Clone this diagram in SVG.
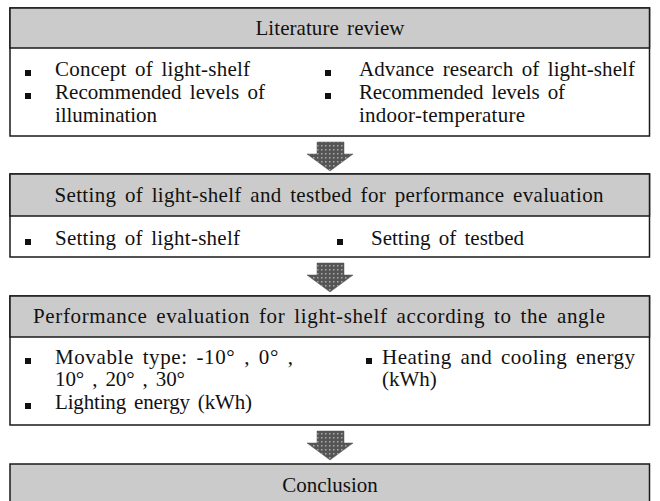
<svg xmlns="http://www.w3.org/2000/svg" width="660" height="501" viewBox="0 0 660 501">
<style>
.box{fill:#ffffff;stroke:#1a1a1a;stroke-width:1.5}
.hdr{fill:#cbcbcb;stroke:#1a1a1a;stroke-width:1.5}
.t{font-family:"Liberation Serif","Times New Roman",serif;font-size:21px;fill:#111;word-spacing:3px}
.h{text-anchor:middle}
.b{fill:#111}
.arr{fill:url(#hatch);stroke:#555;stroke-width:0.5}
</style>
<defs>
<pattern id="hatch" width="4" height="4" patternUnits="userSpaceOnUse">
<rect width="4" height="4" fill="#555555"/>
<rect x="1" y="1" width="1.5" height="1.5" fill="#aaaaaa"/>
</pattern>
</defs>
<g id="connectors">
<path class="arr" d="M317,142 H344 V154 H353 L330,171 L307,154 H317 Z"/>
<path class="arr" d="M317,263 H344 V275 H353 L330,292 L307,275 H317 Z"/>
<path class="arr" d="M317,431 H344 V443 H353 L330,460 L307,443 H317 Z"/>
</g>
<g id="node1">
<rect class="box" x="10" y="8" width="639.5" height="128"/>
<rect class="hdr" x="10" y="8" width="639.5" height="40"/>
<text class="t h" x="330" y="35" textLength="149" lengthAdjust="spacing">Literature review</text>
<rect class="b" x="25" y="70" width="6" height="6"/>
<text class="t" x="55" y="76" textLength="195" lengthAdjust="spacing">Concept of light-shelf</text>
<rect class="b" x="25" y="93" width="6" height="6"/>
<text class="t" x="55" y="99" textLength="210" lengthAdjust="spacing">Recommended levels of</text>
<text class="t" x="55" y="122" textLength="102" lengthAdjust="spacing">illumination</text>
<rect class="b" x="325" y="70" width="6" height="6"/>
<text class="t" x="359" y="76" textLength="276" lengthAdjust="spacing">Advance research of light-shelf</text>
<rect class="b" x="325" y="93" width="6" height="6"/>
<text class="t" x="359" y="99" textLength="206" lengthAdjust="spacing">Recommended levels of</text>
<text class="t" x="359" y="122" textLength="166" lengthAdjust="spacing">indoor-temperature</text>
</g>
<g id="node2">
<rect class="box" x="10" y="174" width="639.5" height="83"/>
<rect class="hdr" x="10" y="174" width="639.5" height="42"/>
<text class="t h" x="329" y="202" textLength="549" lengthAdjust="spacing">Setting of light-shelf and testbed for performance evaluation</text>
<rect class="b" x="25" y="239" width="6" height="6"/>
<text class="t" x="55" y="245" textLength="185" lengthAdjust="spacing">Setting of light-shelf</text>
<rect class="b" x="337" y="239" width="6" height="6"/>
<text class="t" x="371" y="245" textLength="153" lengthAdjust="spacing">Setting of testbed</text>
</g>
<g id="node3">
<rect class="box" x="10" y="296" width="639.5" height="129"/>
<rect class="hdr" x="10" y="296" width="639.5" height="41"/>
<text class="t h" x="319" y="323" textLength="572" lengthAdjust="spacing">Performance evaluation for light-shelf according to the angle</text>
<rect class="b" x="25" y="358" width="6" height="6"/>
<text class="t" x="55" y="364" textLength="238" lengthAdjust="spacing">Movable type: -10° , 0° ,</text>
<text class="t" x="55" y="386" textLength="130" lengthAdjust="spacing">10° , 20° , 30°</text>
<rect class="b" x="25" y="403" width="6" height="6"/>
<text class="t" x="55" y="409" textLength="197" lengthAdjust="spacing">Lighting energy (kWh)</text>
<rect class="b" x="366" y="358" width="6" height="6"/>
<text class="t" x="382" y="364" textLength="253" lengthAdjust="spacing">Heating and cooling energy</text>
<text class="t" x="382" y="386">(kWh)</text>
</g>
<g id="node4">
<rect class="hdr" x="10" y="464" width="639.5" height="40"/>
<text class="t h" x="330" y="492">Conclusion</text>
</g>
</svg>
